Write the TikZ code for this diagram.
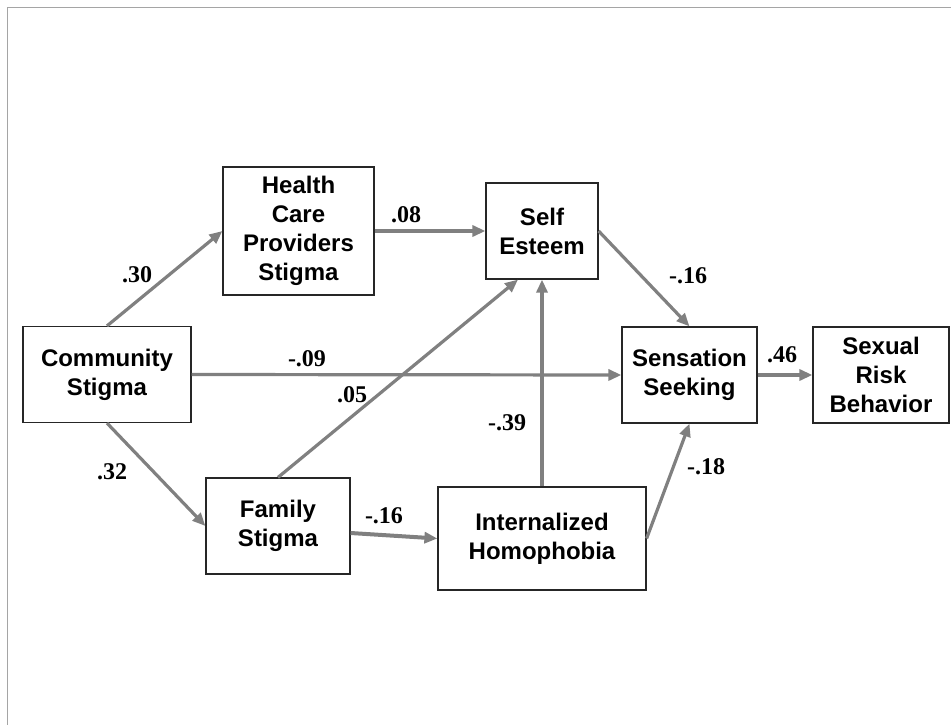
\documentclass[tikz,border=0pt]{standalone}
\usepackage{fontspec}
\setmainfont{Liberation Serif}
\setsansfont{Liberation Sans}
\usetikzlibrary{arrows.meta}
\definecolor{linegray}{RGB}{128,128,128}
\definecolor{framegray}{RGB}{165,165,165}
\tikzset{
  varbox/.style={draw=black!85, line width=1.2pt, fill=white, inner sep=0pt, align=center,
    font=\sffamily\bfseries\fontsize{24}{29}\selectfont},
  path/.style={draw=linegray, line width=3.2pt, -{Triangle[length=13pt,width=11pt]}},
  coef/.style={font=\rmfamily\bfseries\fontsize{24}{26}\selectfont, inner sep=0pt}
}
\begin{document}
\begin{tikzpicture}[x=1pt,y=-1pt]
\useasboundingbox (0,0) rectangle (951,725);
\draw[framegray, line width=1pt] (7,725) -- (7,8) -- (951,8);

\node[varbox, minimum width=151pt, minimum height=128pt] (H) at (298.5,231) {Health\\Care\\Providers\\Stigma};
\node[varbox, minimum width=112pt, minimum height=96pt] (SE) at (542,231) {Self\\Esteem};
\node[varbox, minimum width=135pt, minimum height=96pt] (SS) at (689.5,375) {Sensation\\Seeking};
\node[varbox, minimum width=136pt, minimum height=96pt] (SR) at (881,375) {Sexual\\Risk\\Behavior};
\node[varbox, minimum width=168pt, minimum height=96pt] (C) at (107,374.5) {Community\\Stigma};
\node[varbox, minimum width=144pt, minimum height=96pt] (F) at (278,526) {Family\\Stigma};
\node[varbox, minimum width=208pt, minimum height=103pt] (I) at (542,538.5) {Internalized\\Homophobia};

\draw[path] (C.north) -- (H.west);
\draw[path] (H.east) -- (SE.west);
\draw[path] (F.north) -- ([xshift=-24pt]SE.south);
\draw[path] (I.north) -- (SE.south);
\draw[path] (SE.east) -- (SS.north);
\draw[path] (C.east) -- (SS.west);
\draw[path] (SS.east) -- (SR.west);
\draw[path] (C.south) -- (F.west);
\draw[path, line width=4pt] ([yshift=-7pt]F.east) -- (I.west);
\draw[path] (I.east) -- (SS.south);

\node[coef] (l30) at (137,275) {.30};
\node[coef] (l08) at (406,215) {.08};
\node[coef] (l16a) at (688,276) {-.16};
\node[coef] (l46) at (782,355) {.46};
\node[coef] (l09) at (307,359) {-.09};
\node[coef] (l05) at (352,395) {.05};
\node[coef] (l39) at (507,423) {-.39};
\node[coef] (l32) at (112,472) {.32};
\node[coef] (l16b) at (384,516) {-.16};
\node[coef] (l18) at (706,467) {-.18};
\end{tikzpicture}
\end{document}
